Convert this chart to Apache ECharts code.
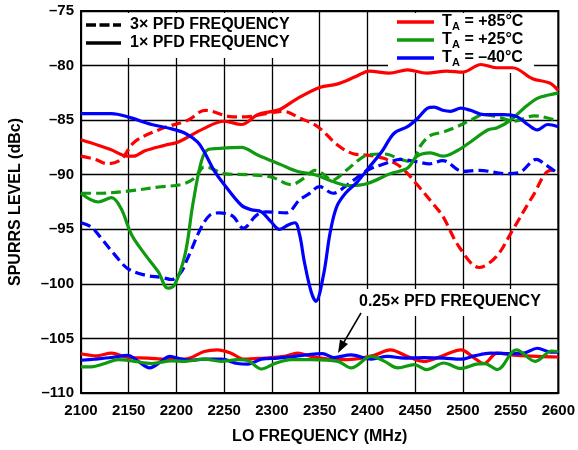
<!DOCTYPE html>
<html>
<head>
<meta charset="utf-8">
<script src="https://cdn.jsdelivr.net/npm/echarts@6/dist/echarts.min.js"></script>
<style>
  html, body { margin: 0; padding: 0; background: #fff; }
  #chart { width: 578px; height: 450px; }
</style>
</head>
<body>
<div id="chart"></div>
<script>
// Spur level (dBc) versus LO frequency (MHz), pairs of [MHz, dBc]
// 3x PFD frequency spurs
const hot3x = [[2100,-88.3],[2115,-88.6],[2128,-89.0],[2142,-88.6],[2156,-87.0],[2184,-85.8],[2212,-85.0],[2230,-84.1],[2259,-84.7],[2273,-84.7],[2294,-84.4],[2312,-84.2],[2329,-84.8],[2348,-85.6],[2369,-87.3],[2386,-88.1],[2400,-88.2],[2417,-88.5],[2435,-89.3],[2452,-90.9],[2470,-92.8],[2479,-93.8],[2496,-96.6],[2517,-98.5],[2535,-97.5],[2552,-95.1],[2573,-92.0],[2592,-89.6],[2600,-89.8]];
const mid3x = [[2100,-91.7],[2118,-91.7],[2149,-91.5],[2184,-91.1],[2205,-90.9],[2219,-90.3],[2229,-89.3],[2236,-89.4],[2250,-89.9],[2275,-90.0],[2299,-90.2],[2320,-90.9],[2334,-90.3],[2345,-89.6],[2353,-89.9],[2363,-90.5],[2378,-89.6],[2390,-88.7],[2400,-88.2],[2418,-88.1],[2435,-88.6],[2446,-88.8],[2456,-87.3],[2466,-86.4],[2479,-86.1],[2494,-85.6],[2508,-85.0],[2522,-84.5],[2536,-84.7],[2554,-85.1],[2575,-84.6],[2589,-84.8],[2600,-85.1]];
const cold3x = [[2100,-94.4],[2111,-94.8],[2121,-95.8],[2135,-97.3],[2149,-98.6],[2167,-99.2],[2184,-99.4],[2195,-99.6],[2205,-98.9],[2211,-97.8],[2215,-97.0],[2225,-95.0],[2235,-93.7],[2245,-93.5],[2259,-93.8],[2270,-94.9],[2284,-93.7],[2294,-93.4],[2315,-93.5],[2329,-92.3],[2338,-91.8],[2350,-91.1],[2364,-91.7],[2378,-91.0],[2400,-89.6],[2418,-89.0],[2435,-88.6],[2451,-88.8],[2465,-89.0],[2479,-88.7],[2500,-89.7],[2517,-89.6],[2545,-89.9],[2559,-89.8],[2577,-88.6],[2587,-89.1],[2600,-89.9]];

// 1x PFD frequency spurs
const hot1x = [[2100,-86.8],[2118,-87.3],[2131,-87.7],[2149,-88.3],[2155,-88.3],[2167,-87.8],[2188,-87.3],[2202,-87.0],[2228,-85.8],[2250,-85.1],[2268,-85.4],[2285,-84.5],[2300,-84.2],[2309,-84.0],[2327,-83.0],[2350,-82.0],[2368,-81.7],[2388,-81.0],[2402,-80.5],[2423,-80.7],[2442,-80.4],[2462,-80.7],[2483,-80.5],[2500,-80.6],[2519,-79.9],[2535,-80.2],[2552,-80.2],[2573,-81.2],[2591,-81.6],[2600,-82.3]];
const mid1x = [[2100,-91.7],[2118,-92.5],[2132,-92.1],[2142,-93.1],[2153,-95.5],[2167,-97.3],[2181,-98.9],[2191,-100.4],[2198,-100.1],[2209,-97.3],[2217,-92.8],[2226,-88.8],[2233,-87.7],[2243,-87.6],[2268,-87.5],[2285,-88.2],[2310,-89.1],[2327,-89.7],[2345,-90.0],[2363,-90.6],[2381,-91.0],[2400,-90.8],[2424,-89.9],[2442,-89.4],[2452,-88.3],[2466,-88.0],[2479,-88.3],[2494,-87.8],[2508,-87.0],[2526,-85.9],[2536,-85.7],[2550,-85.0],[2564,-83.9],[2578,-83.0],[2590,-82.7],[2600,-82.5]];
const cold1x = [[2100,-84.4],[2132,-84.4],[2149,-84.7],[2174,-85.4],[2195,-85.8],[2209,-86.2],[2222,-87.0],[2229,-87.9],[2240,-89.7],[2250,-90.9],[2268,-92.8],[2278,-93.2],[2289,-93.4],[2299,-94.3],[2308,-95.0],[2317,-94.6],[2324,-94.4],[2329,-95.5],[2334,-98.0],[2341,-100.7],[2346,-101.6],[2354,-99.2],[2361,-95.3],[2368,-92.9],[2378,-91.6],[2389,-90.7],[2402,-89.3],[2415,-87.9],[2428,-86.2],[2442,-85.6],[2453,-84.8],[2463,-83.9],[2470,-83.8],[2479,-84.1],[2487,-84.2],[2498,-83.9],[2508,-84.1],[2522,-84.5],[2543,-84.5],[2557,-84.7],[2568,-85.4],[2578,-85.9],[2589,-85.4],[2600,-85.6]];

// 0.25x PFD frequency spurs
const hotQ = [[2100,-106.4],[2107,-106.5],[2116,-106.6],[2132,-106.35],[2149,-106.75],[2170,-106.8],[2190,-106.9],[2209,-106.9],[2229,-106.2],[2243,-106.05],[2257,-106.35],[2271,-106.9],[2292,-106.8],[2313,-106.65],[2327,-106.35],[2341,-106.65],[2369,-106.95],[2386,-106.9],[2407,-106.55],[2424,-106.05],[2442,-106.65],[2459,-107.1],[2477,-106.65],[2498,-106.05],[2512,-106.8],[2522,-107.3],[2536,-106.35],[2557,-106.55],[2578,-106.65],[2600,-106.7]];
const midQ = [[2100,-107.6],[2111,-107.6],[2125,-107.3],[2139,-106.95],[2153,-107.05],[2174,-107.3],[2195,-107.05],[2209,-107.1],[2229,-106.9],[2247,-107.1],[2264,-106.95],[2275,-107.05],[2289,-107.8],[2303,-107.3],[2320,-106.95],[2341,-106.95],[2369,-107.1],[2383,-107.7],[2404,-106.65],[2418,-107.1],[2432,-107.7],[2449,-107.4],[2462,-107.85],[2480,-107.25],[2498,-107.75],[2514,-107.35],[2523,-107.3],[2536,-107.85],[2556,-106.05],[2576,-107.1],[2593,-106.15],[2600,-106.2]];
const coldQ = [[2100,-107.0],[2114,-106.9],[2132,-106.75],[2149,-106.55],[2160,-107.1],[2172,-107.7],[2184,-107.1],[2193,-106.65],[2205,-106.9],[2215,-107.0],[2229,-106.9],[2247,-106.9],[2264,-107.3],[2275,-107.35],[2289,-106.9],[2306,-106.8],[2324,-106.65],[2341,-106.45],[2353,-106.4],[2365,-106.75],[2383,-106.5],[2404,-106.9],[2421,-106.65],[2439,-106.8],[2460,-106.75],[2480,-106.8],[2498,-106.9],[2512,-106.6],[2529,-106.35],[2550,-106.4],[2564,-106.35],[2578,-105.9],[2592,-106.25],[2600,-106.25]];

const xTicks = [2100, 2150, 2200, 2250, 2300, 2350, 2400, 2450, 2500, 2550, 2600];
const yTicks = [-110, -105, -100, -95, -90, -85, -80, -75];

const RED = '#ff0000';
const GREEN = '#0f9a0f';
const BLUE = '#0000ff';
const FONT = "'Liberation Sans', Arial, Helvetica, sans-serif";
const TEXT_FONT = 'bold 16px ' + FONT;

function curve(name, data, color, dashed) {
  return {
    name: name,
    type: 'line',
    data: data,
    smooth: 0.35,
    showSymbol: false,
    symbol: 'none',
    z: 3,
    lineStyle: { color: color, width: 3.2, type: dashed ? [10, 5] : 'solid', cap: 'butt' },
    emphasis: { disabled: true },
    silent: true
  };
}

const chart = echarts.init(document.getElementById('chart'), null, { renderer: 'canvas' });

const labelFont = { fontFamily: FONT, fontWeight: 'bold', fontSize: 15, color: '#000' };
const titleFont = { fontFamily: FONT, fontWeight: 'bold', fontSize: 16, color: '#000' };

chart.setOption({
  animation: false,
  backgroundColor: '#fff',
  grid: { left: 81, right: 19, top: 11, bottom: 57, show: true, borderColor: '#000', borderWidth: 2, backgroundColor: 'transparent' },
  xAxis: {
    type: 'value',
    min: xTicks[0], max: xTicks[xTicks.length - 1], interval: 50,
    name: 'LO FREQUENCY (MHz)',
    nameLocation: 'middle',
    nameGap: 36,
    nameTextStyle: titleFont,
    axisLine: { show: true, lineStyle: { color: '#000', width: 2 } },
    axisTick: { show: false },
    axisLabel: Object.assign({ margin: 10, formatter: v => String(v) }, labelFont),
    splitLine: { show: true, lineStyle: { color: '#000', width: 1.3 } }
  },
  yAxis: {
    type: 'value',
    min: yTicks[0], max: yTicks[yTicks.length - 1], interval: 5,
    name: 'SPURRS LEVEL (dBc)',
    nameLocation: 'middle',
    nameGap: 57,
    nameTextStyle: titleFont,
    axisLine: { show: true, lineStyle: { color: '#000', width: 2 } },
    axisTick: { show: false },
    axisLabel: Object.assign({ margin: 7, formatter: v => (v < 0 ? '\u2013' + Math.abs(v) : String(v)) }, labelFont),
    splitLine: { show: true, lineStyle: { color: '#000', width: 1.3 } }
  },
  series: [
    curve('+85°C 3x', hot3x, RED, true),
    curve('+25°C 3x', mid3x, GREEN, true),
    curve('-40°C 3x', cold3x, BLUE, true),
    curve('+85°C 1x', hot1x, RED, false),
    curve('+25°C 1x', mid1x, GREEN, false),
    curve('-40°C 1x', cold1x, BLUE, false),
    curve('+85°C 0.25x', hotQ, RED, false),
    curve('-40°C 0.25x', coldQ, BLUE, false),
    curve('+25°C 0.25x', midQ, GREEN, false)
  ],
  graphic: { elements: [
    // white panels behind the keys and the annotation
    { type: 'rect', z: 1, silent: true, shape: { x: 83, y: 13, width: 214, height: 45 }, style: { fill: '#fff' } },
    { type: 'rect', z: 1, silent: true, shape: { x: 388, y: 13, width: 146, height: 60 }, style: { fill: '#fff' } },
    { type: 'rect', z: 1, silent: true, shape: { x: 352, y: 289, width: 196, height: 27 }, style: { fill: '#fff' } },

    // line-style key
    { type: 'line', z: 10, silent: true, shape: { x1: 86, y1: 25, x2: 121, y2: 25 }, style: { stroke: '#000', lineWidth: 3.5, lineDash: [10, 3.5] } },
    { type: 'text', z: 10, silent: true, style: { x: 130, y: 25, text: '3\u00d7 PFD FREQUENCY', font: TEXT_FONT, fill: '#000', verticalAlign: 'middle' } },
    { type: 'line', z: 10, silent: true, shape: { x1: 86, y1: 43, x2: 121, y2: 43 }, style: { stroke: '#000', lineWidth: 3.5 } },
    { type: 'text', z: 10, silent: true, style: { x: 130, y: 43, text: '1\u00d7 PFD FREQUENCY', font: TEXT_FONT, fill: '#000', verticalAlign: 'middle' } },

    // temperature key
    { type: 'line', z: 10, silent: true, shape: { x1: 397, y1: 22, x2: 434, y2: 22 }, style: { stroke: RED, lineWidth: 3.5 } },
    { type: 'text', z: 10, silent: true, style: { x: 442, y: 22, text: 'T', font: 'bold 16px ' + FONT, fill: '#000', verticalAlign: 'middle' } },
    { type: 'text', z: 10, silent: true, style: { x: 452, y: 27, text: 'A', font: 'bold 11px ' + FONT, fill: '#000', verticalAlign: 'middle' } },
    { type: 'text', z: 10, silent: true, style: { x: 460, y: 22, text: ' = +85°C', font: TEXT_FONT, fill: '#000', verticalAlign: 'middle' } },

    { type: 'line', z: 10, silent: true, shape: { x1: 397, y1: 40, x2: 434, y2: 40 }, style: { stroke: GREEN, lineWidth: 3.5 } },
    { type: 'text', z: 10, silent: true, style: { x: 442, y: 40, text: 'T', font: 'bold 16px ' + FONT, fill: '#000', verticalAlign: 'middle' } },
    { type: 'text', z: 10, silent: true, style: { x: 452, y: 45, text: 'A', font: 'bold 11px ' + FONT, fill: '#000', verticalAlign: 'middle' } },
    { type: 'text', z: 10, silent: true, style: { x: 460, y: 40, text: ' = +25°C', font: TEXT_FONT, fill: '#000', verticalAlign: 'middle' } },

    { type: 'line', z: 10, silent: true, shape: { x1: 397, y1: 58, x2: 434, y2: 58 }, style: { stroke: BLUE, lineWidth: 3.5 } },
    { type: 'text', z: 10, silent: true, style: { x: 442, y: 58, text: 'T', font: 'bold 16px ' + FONT, fill: '#000', verticalAlign: 'middle' } },
    { type: 'text', z: 10, silent: true, style: { x: 452, y: 63, text: 'A', font: 'bold 11px ' + FONT, fill: '#000', verticalAlign: 'middle' } },
    { type: 'text', z: 10, silent: true, style: { x: 460, y: 58, text: ' = \u201340°C', font: TEXT_FONT, fill: '#000', verticalAlign: 'middle' } },

    // 0.25x annotation with arrow
    { type: 'text', z: 10, silent: true, style: { x: 359, y: 302, text: '0.25\u00d7 PFD FREQUENCY', font: TEXT_FONT, fill: '#000', verticalAlign: 'middle' } },
    { type: 'line', z: 10, silent: true, shape: { x1: 361, y1: 313, x2: 344, y2: 342 }, style: { stroke: '#000', lineWidth: 1.5 } },
    { type: 'polygon', z: 10, silent: true, shape: { points: [[338, 353], [348, 344], [340, 339.5]] }, style: { fill: '#000' } }
  ] }
});
</script>
</body>
</html>
